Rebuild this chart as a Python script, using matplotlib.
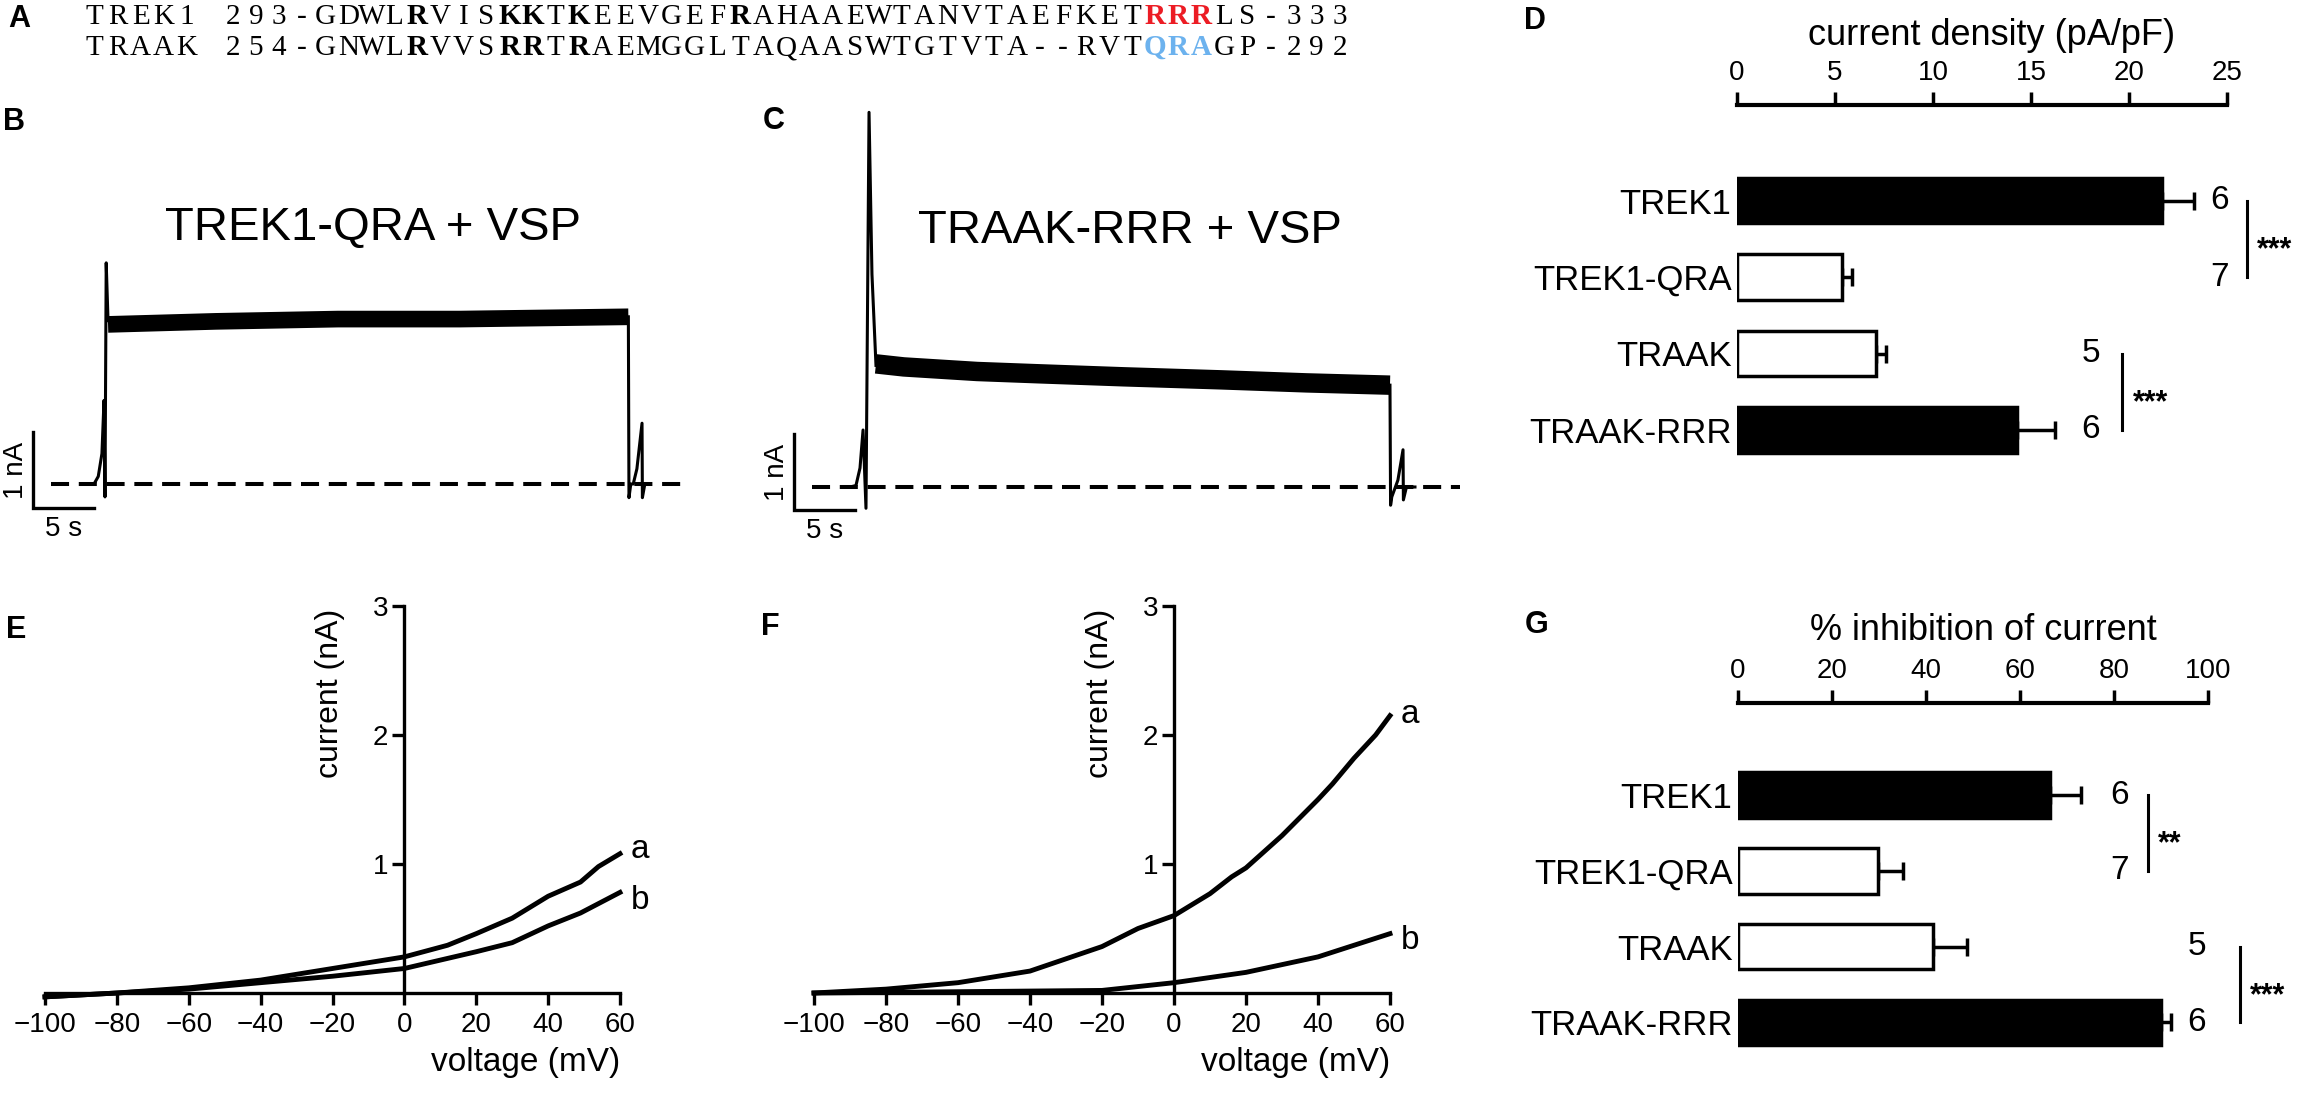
import numpy as np
import matplotlib
matplotlib.use("Agg")
import matplotlib.pyplot as plt

plt.rcParams['font.family'] = ['Liberation Sans', 'DejaVu Sans']
plt.rcParams['lines.scale_dashes'] = False

W, H = 2299, 1095

# ---------------- data ----------------
# A: sequence alignment
seq_trek1 = "TREK1 293-GDWLRVISKKTKEEVGEFRAHAAEWTANVTAEFKETRRRLS-333"
seq_traak = "TRAAK 254-GNWLRVVSRRTRAEMGGLTAQAASWTGTVTA--RVTQRAGP-292"
bold_trek1 = [14, 18, 19, 21, 28]
bold_traak = [14, 18, 19, 21]
red_trek1 = [46, 47, 48]
blue_traak = [46, 47, 48]

# B: TREK1-QRA + VSP (time in s, current in nA)
b_on_t = [4.7, 5.0, 5.35, 5.65, 5.82, 5.9, 6.0, 6.15]
b_on_i = [0.0, 0.0, 0.1, 0.4, 1.1, -0.17, 2.91, 2.15]
b_plat_t = [6.15, 15, 25, 35, 48.8]
b_plat_i = [2.10, 2.14, 2.17, 2.17, 2.20]
b_off_t = [48.8, 48.85, 49.0, 49.2, 49.5, 49.92, 49.95, 50.15, 50.6]
b_off_i = [2.20, -0.18, 0.0, 0.0, 0.2, 0.8, -0.18, 0.0, 0.0]

# C: TRAAK-RRR + VSP
c_on_t = [4.6, 5.08, 5.41, 5.66, 5.9, 6.15, 6.39, 6.72]
c_on_i = [0.0, 0.02, 0.25, 0.75, -0.28, 4.93, 2.8, 1.6]
c_plat_t = [6.72, 9, 15, 20, 27, 35, 42, 48.85]
c_plat_i = [1.62, 1.58, 1.52, 1.49, 1.45, 1.41, 1.37, 1.34]
c_off_t = [48.85, 48.9, 49.0, 49.5, 49.92, 49.95, 50.2, 50.9]
c_off_i = [1.34, -0.24, -0.13, 0.09, 0.49, -0.17, 0.0, 0.0]

# E: TREK1-QRA I-V (mV, nA)
e_v_a = [-100, -80, -60, -40, -20, 0, 12, 20, 30, 40, 49, 54, 60]
e_i_a = [-0.03, 0.0, 0.04, 0.10, 0.19, 0.28, 0.37, 0.46, 0.58, 0.75, 0.86, 0.98, 1.08]
e_v_b = [-100, -80, -60, -40, -20, 0, 20, 30, 40, 49, 60]
e_i_b = [-0.03, 0.0, 0.03, 0.08, 0.13, 0.19, 0.32, 0.39, 0.52, 0.62, 0.78]

# F: TRAAK-RRR I-V
f_v_a = [-100, -80, -60, -40, -20, -10, 0, 10, 16, 20, 30, 40, 44, 50, 56, 60]
f_i_a = [0.0, 0.03, 0.08, 0.17, 0.36, 0.5, 0.6, 0.77, 0.9, 0.97, 1.22, 1.5, 1.62, 1.82, 2.0, 2.15]
f_v_b = [-100, -60, -20, 0, 20, 40, 50, 60]
f_i_b = [0.0, 0.01, 0.02, 0.08, 0.16, 0.28, 0.37, 0.46]

# D / G: bar charts
groups = ['TREK1', 'TREK1-QRA', 'TRAAK', 'TRAAK-RRR']
filled = [True, False, False, True]
density = [21.7, 5.35, 7.1, 14.3]
density_err = [1.6, 0.5, 0.5, 1.9]
inhibition = [66.4, 29.8, 41.5, 90.0]
inhibition_err = [6.6, 5.3, 7.2, 2.2]
n_cells = [6, 7, 5, 6]


# ---------------- helpers ----------------
fig = plt.figure(figsize=(W / 100, H / 100), dpi=100)
fig.patch.set_facecolor('white')


def box(x0, y0, x1, y1):
    # pixel box (top-left origin) -> figure fraction rect
    return [x0 / W, 1 - y1 / H, (x1 - x0) / W, (y1 - y0) / H]


def ftext(x, y, s, **kw):
    return fig.text(x / W, 1 - y / H, s, **kw)


# panel letters
for lab, x, y in [('A', 19, 19), ('B', 14, 122), ('C', 774, 121), ('D', 1535, 21),
                  ('E', 16, 630), ('F', 770, 627), ('G', 1537, 625)]:
    ftext(x, y, lab, size=22, weight='bold', ha='center', va='center')

# ---------------- A ----------------
pitch = 23.06
for seq, bold, coloured, colour, base in [(seq_trek1, bold_trek1, red_trek1, '#ec1c24', 24),
                                          (seq_traak, bold_traak, blue_traak, '#6cb2ee', 55)]:
    for i, ch in enumerate(seq):
        heavy = i in bold or i in coloured
        ftext(83 + pitch * (i + 0.5), base, ch, family='Liberation Serif', size=21,
              weight='bold' if heavy else 'normal',
              color=colour if i in coloured else 'black',
              ha='center', va='baseline')

# ---------------- B / C traces ----------------
PX_S, PX_NA = 12.2, 76.0


def trace_axes(x0, y0, x1, y1, ox, oy):
    ax = fig.add_axes(box(x0, y0, x1, y1))
    ax.set_xlim((x0 - ox) / PX_S, (x1 - ox) / PX_S)
    ax.set_ylim((oy - y1) / PX_NA, (oy - y0) / PX_NA)
    ax.axis('off')
    return ax


def draw_trace(ax, on, plat, off, plat_lw, base_end, sb_y):
    ax.plot([1.5, base_end], [0, 0], color='black', lw=2.9, ls=(0, (13, 7)))
    ax.plot(*on, color='black', lw=2.2)
    ax.plot(*plat, color='black', lw=plat_lw, solid_capstyle='butt')
    ax.plot(*off, color='black', lw=2.2)
    # scale bar
    ax.plot([0, 0, 5], [sb_y + 1, sb_y, sb_y], color='black', lw=2.4,
            solid_joinstyle='miter')
    ax.text(-1.4, sb_y + 0.5, '1 nA', rotation=90, size=20, ha='center', va='center')
    ax.text(2.5, sb_y - 0.27, '5 s', size=20, ha='center', va='center')


axB = trace_axes(0, 90, 700, 560, 33, 484)
draw_trace(axB, (b_on_t, b_on_i), (b_plat_t, b_plat_i), (b_off_t, b_off_i),
           12, 53.3, (484 - 508) / PX_NA)
ftext(373, 240, 'TREK1-QRA + VSP', size=34, ha='center', va='baseline')

axC = trace_axes(700, 90, 1500, 560, 794, 487)
draw_trace(axC, (c_on_t, c_on_i), (c_plat_t, c_plat_i), (c_off_t, c_off_i),
           14, 54.6, (487 - 510) / PX_NA)
ftext(1130, 243, 'TRAAK-RRR + VSP', size=34, ha='center', va='baseline')

# ---------------- E / F I-V curves ----------------


def iv_axes(x0, x1, curves, lab_y, ylabel_x):
    ax = fig.add_axes(box(x0, 606, x1, 993))
    ax.set_xlim(-100, 60)
    ax.set_ylim(0, 3)
    ax.spines['left'].set_position(('data', 0))
    ax.spines[['right', 'top']].set_visible(False)
    for s in ('left', 'bottom'):
        ax.spines[s].set_linewidth(2.4)
    ax.set_xticks(range(-100, 61, 20))
    ax.set_yticks([1, 2, 3])
    ax.tick_params(direction='out', length=8.5, width=2.4, labelsize=20)
    ax.tick_params(axis='x', pad=5)
    ax.tick_params(axis='y', pad=3)
    ax.patch.set_alpha(0)
    for (v, i), lab, ly in zip(curves, ['a', 'b'], lab_y):
        ax.plot(v, i, color='black', lw=3.5, clip_on=False)
        ax.text(65.5, ly, lab, size=24, ha='center', va='center')
    fig.text(x1 / W, 1 - 1062 / H, 'voltage (mV)', size=24, ha='right', va='center')
    ftext(ylabel_x, 693, 'current (nA)', size=23, rotation=90, ha='center', va='center')
    return ax


iv_axes(45, 620, [(e_v_a, e_i_a), (e_v_b, e_i_b)], [1.11, 0.72], 330)
iv_axes(814, 1390, [(f_v_a, f_i_a), (f_v_b, f_i_b)], [2.16, 0.41], 1100)

# ---------------- D / G bar charts ----------------


def bar_axes(x0, x1, y_axis, y_first, step, xmax, ticks, vals, errs,
             n_x, sig, title, title_y):
    y_bottom = y_first + 3 * step + 38
    ax = fig.add_axes(box(x0, y_axis, x1, y_bottom))
    ax.set_xlim(0, xmax)
    ax.set_ylim((y_bottom - y_first) / step, (y_axis - y_first) / step)
    pos = np.arange(len(groups))
    ax.barh(pos, vals, height=0.6, color=['black' if f else 'white' for f in filled],
            edgecolor='black', linewidth=2.5, zorder=2)
    ax.errorbar(vals, pos, xerr=[np.zeros(len(vals)), errs], fmt='none', ecolor='black',
                elinewidth=2.5, capsize=6.5, capthick=2.5, zorder=1, clip_on=False)
    ax.spines[['left', 'right', 'bottom']].set_visible(False)
    ax.spines['top'].set_linewidth(3)
    ax.xaxis.tick_top()
    ax.set_xticks(ticks)
    ax.tick_params(axis='x', direction='out', length=9.5, width=2.5, labelsize=20, pad=4)
    ax.set_yticks(pos)
    ax.set_yticklabels(groups, size=25)
    ax.tick_params(axis='y', length=0, pad=4)
    for p, n in zip(pos, n_cells):
        ax.text(n_x[p // 2], p, str(n), size=24, ha='center', va='center', clip_on=False)
    for (a, b, stars, lx, sx) in sig:
        ax.plot([lx, lx], [a, b], color='black', lw=2.2, clip_on=False)
        ax.text(sx, (a + b) / 2 + 0.15, stars, size=22, weight='bold',
                ha='center', va='center', clip_on=False)
    ftext((x0 + x1) / 2 + 10, title_y, title, size=26, ha='center', va='baseline')
    return ax


px_d = (2227 - 1737) / 25
bar_axes(1737, 2227, 105, 200.5, 76.5, 25, range(0, 26, 5), density, density_err,
         [(2220 - 1737) / px_d, (2091 - 1737) / px_d],
         [(0, 1, '***', (2247 - 1737) / px_d, (2275 - 1737) / px_d),
          (2, 3, '***', (2122 - 1737) / px_d, (2151 - 1737) / px_d)],
         'current density (pA/pF)', 45)

px_g = (2208 - 1738) / 100
bar_axes(1738, 2208, 703, 795, 75.8, 100, range(0, 101, 20), inhibition, inhibition_err,
         [(2120 - 1738) / px_g, (2197 - 1738) / px_g],
         [(0, 1, '**', (2148 - 1738) / px_g, (2170 - 1738) / px_g),
          (2, 3, '***', (2240 - 1738) / px_g, (2268 - 1738) / px_g)],
         '% inhibition of current', 640)

fig.savefig('out.png', dpi=100, facecolor='white')
